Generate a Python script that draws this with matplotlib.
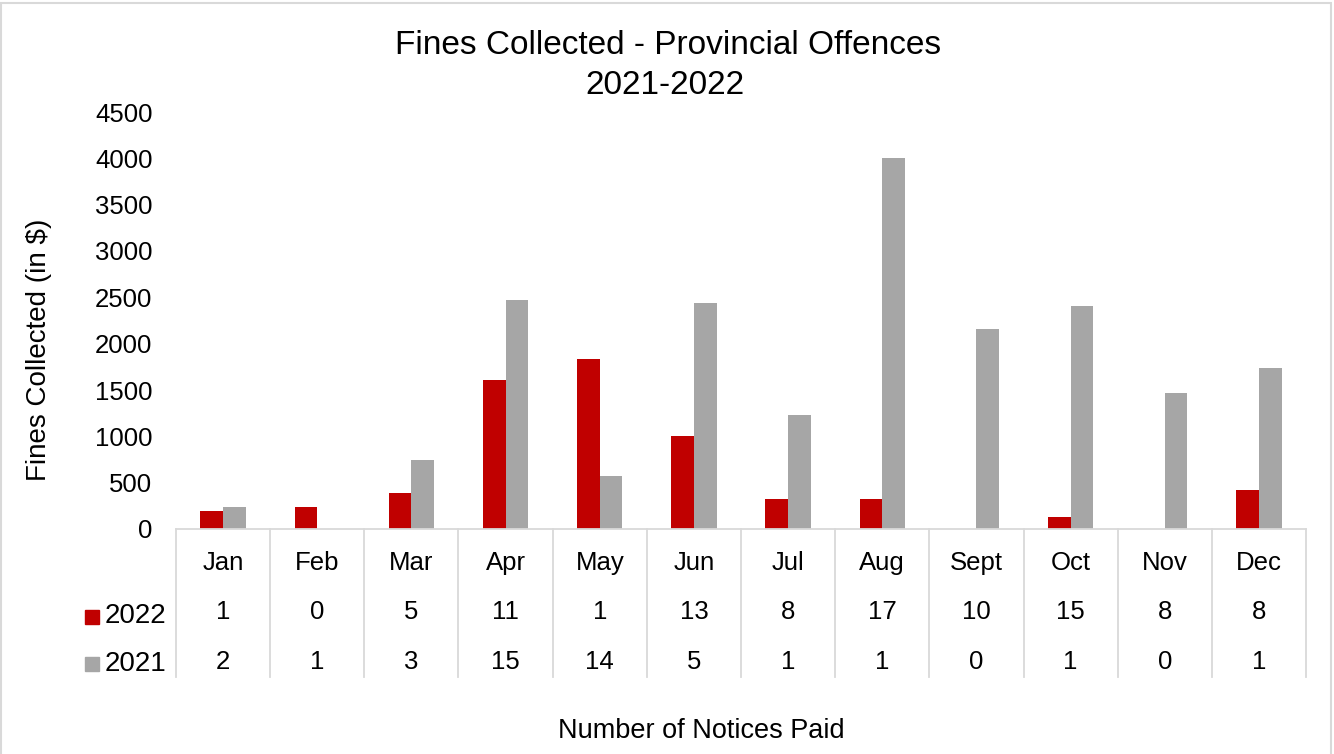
import numpy as np
import matplotlib
matplotlib.use("Agg")
import matplotlib.pyplot as plt
from matplotlib.patches import Rectangle

months = ["Jan", "Feb", "Mar", "Apr", "May", "Jun", "Jul", "Aug", "Sept", "Oct", "Nov", "Dec"]
fines_2022 = [197, 234, 388, 1610, 1830, 1003, 320, 320, 0, 133, 0, 420]
fines_2021 = [234, 0, 740, 2466, 571, 2437, 1229, 4000, 2156, 2404, 1463, 1739]
notices_2022 = [1, 0, 5, 11, 1, 13, 8, 17, 10, 15, 8, 8]
notices_2021 = [2, 1, 3, 15, 14, 5, 1, 1, 0, 1, 0, 1]

red = "#C00000"
gray = "#A6A6A6"
line_col = "#D9D9D9"
fs = 18.5

plt.rcParams['font.family'] = ['Liberation Sans', 'DejaVu Sans']

W, H = 1334, 754
fig = plt.figure(figsize=(W / 100, H / 100), dpi=100)

def fx(px):
    return px / W

def fy(py):
    return 1 - py / H

left, right, top, bottom = 176, 1306, 112, 529
ax = fig.add_axes([fx(left), fy(bottom), fx(right - left), fy(top) - fy(bottom)])

x = np.arange(len(months))
bw = 0.24
ax.bar(x - bw / 2, fines_2022, bw, color=red, label="2022")
ax.bar(x + bw / 2, fines_2021, bw, color=gray, label="2021")

ax.set_xlim(-0.5, len(months) - 0.5)
ax.set_ylim(0, 4500)
ax.set_yticks(np.arange(0, 4501, 500))
ax.tick_params(axis="y", length=0, labelsize=fs, pad=17)
ax.set_xticks([])
for s in ["top", "right", "left"]:
    ax.spines[s].set_visible(False)
ax.spines["bottom"].set_color(line_col)
ax.spines["bottom"].set_linewidth(1.3)

# data table under the axis
trans = ax.get_xaxis_transform()
def ay(py):
    return (bottom - py) / (bottom - top)

for b in np.arange(-0.5, len(months), 1.0):
    ax.plot([b, b], [0, ay(677)], color=line_col, lw=1.3, transform=trans, clip_on=False)

for i, m in enumerate(months):
    ax.text(i, ay(563), m, transform=trans, ha="center", va="center", fontsize=fs)
    ax.text(i, ay(612), str(notices_2022[i]), transform=trans, ha="center", va="center", fontsize=fs)
    ax.text(i, ay(662), str(notices_2021[i]), transform=trans, ha="center", va="center", fontsize=fs)

for yy, sq, lab, col in [(615, 617, "2022", red), (663, 664, "2021", gray)]:
    fig.patches.append(Rectangle((fx(85), fy(sq + 7)), fx(14), fy(sq - 7) - fy(sq + 7),
                                 transform=fig.transFigure, color=col))
    fig.text(fx(166), fy(yy + 1), lab, ha="right", va="center", fontsize=20)

fig.text(fx(668), fy(46), "Fines Collected - Provincial Offences", ha="center", va="center", fontsize=24)
fig.text(fx(665), fy(86), "2021-2022", ha="center", va="center", fontsize=24)
fig.text(fx(39), fy(350), "Fines Collected (in $)", rotation=90, ha="center", va="center", fontsize=20)
fig.text(fx(701), fy(731), "Number of Notices Paid", ha="center", va="center", fontsize=19.5)

fig.patches.append(Rectangle((fx(1.5), fy(760)), fx(1329), fy(3) - fy(760),
                             transform=fig.transFigure, fill=False, edgecolor=line_col, lw=1.5))

fig.savefig("out.png", dpi=100)
